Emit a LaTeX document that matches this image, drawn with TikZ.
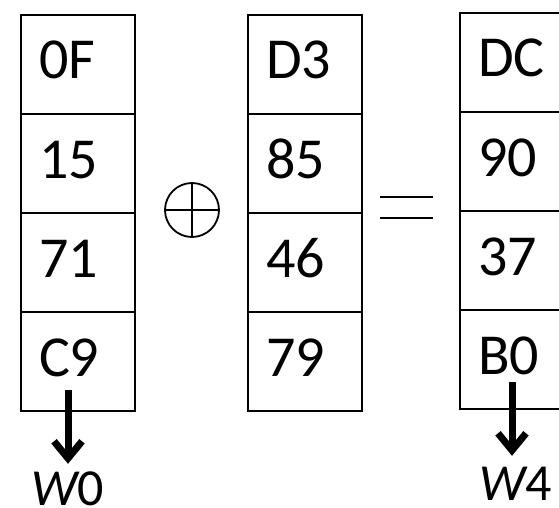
\documentclass[tikz,border=0pt]{standalone}
\usepackage{fontspec}
\setmainfont{Carlito}
\usetikzlibrary{arrows.meta,positioning}

\tikzset{
  cell/.style={draw,line width=2.6pt,outer sep=0pt,minimum width=114pt,minimum height=99pt,
    inner xsep=18pt,inner ysep=0pt,text width=78pt,align=left,
    text height=64pt,text depth=35pt,font=\fontsize{58}{60}\selectfont},
  wlabel/.style={inner sep=0pt,text height=33pt,text depth=0pt,font=\fontsize{52}{54}\selectfont},
  takeout/.style={line width=7pt,-{Straight Barb[length=17pt,width=28pt]}},
  sign/.style={line width=1.8pt}
}

\begin{document}
\begin{tikzpicture}[x=1pt,y=-1pt,node distance=0pt]
  \useasboundingbox (0,0) rectangle (559,508);
  % first word
  \node[cell,anchor=north] (a1) at (78,15) {0F};
  \node[cell,below=of a1]  (a2) {15};
  \node[cell,below=of a2]  (a3) {71};
  \node[cell,below=of a3]  (a4) {C9};
  % second word
  \node[cell,anchor=north] (b1) at (305,15) {D3};
  \node[cell,below=of b1]  (b2) {85};
  \node[cell,below=of b2]  (b3) {46};
  \node[cell,below=of b3]  (b4) {79};
  % result
  \node[cell,anchor=north] (c1) at (517,13) {DC};
  \node[cell,below=of c1]  (c2) {90};
  \node[cell,below=of c2]  (c3) {37};
  \node[cell,below=of c3]  (c4) {B0};
  % xor and equals
  \node[circle,sign,draw,minimum size=54pt,inner sep=0pt] (xor) at (192,210) {};
  \draw[sign] (xor.north) -- (xor.south) (xor.west) -- (xor.east);
  \node[minimum width=53pt,minimum height=21pt,inner sep=0pt] (eq) at (406.5,207.5) {};
  \draw[sign] (eq.north west) -- (eq.north east) (eq.south west) -- (eq.south east);
  % words taken out
  \coordinate (s0) at (68,390);
  \coordinate (s4) at (512,382);
  \node[wlabel,anchor=base] (w0) at (67.5,505) {{\itshape W}0};
  \node[wlabel,anchor=base] (w4) at (516,500) {{\itshape W}4};
  \draw[takeout,shorten >=8pt]  (s0) -- (s0 |- w0.north);
  \draw[takeout,shorten >=11pt] (s4) -- (s4 |- w4.north);
\end{tikzpicture}
\end{document}
